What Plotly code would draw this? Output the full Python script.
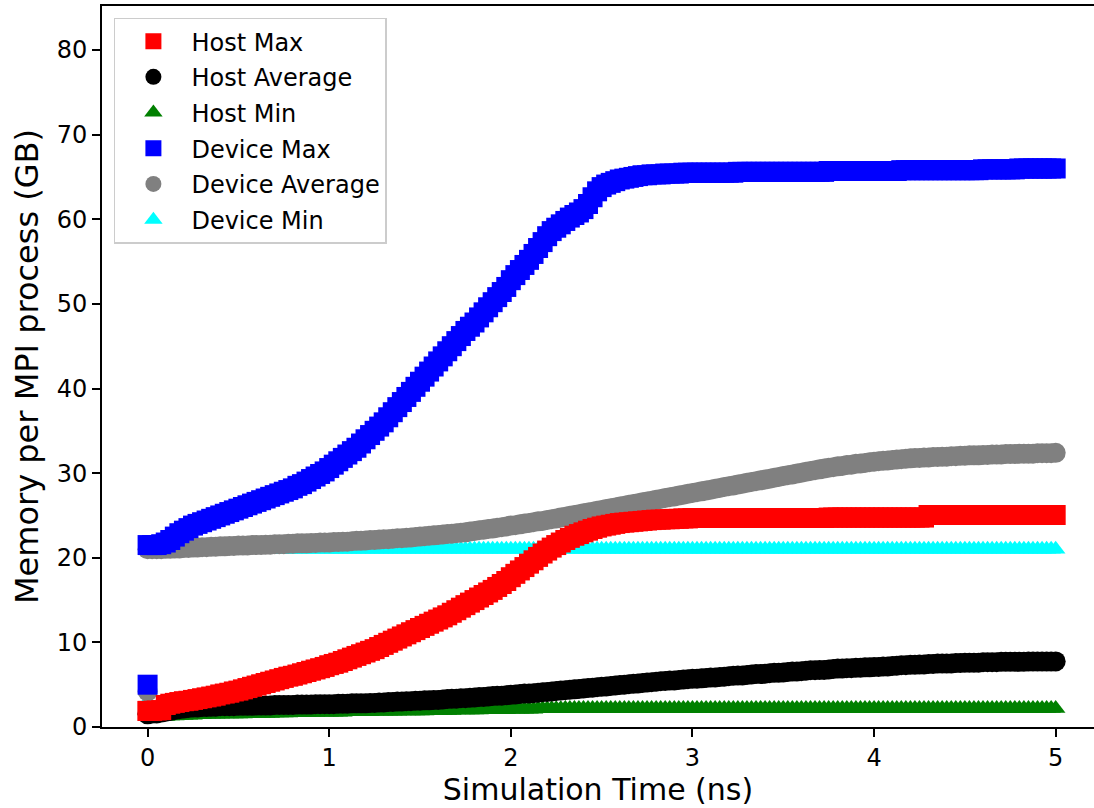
import plotly.graph_objects as go

# Sampling times of the simulation (ns): an initial record at t=0, then every 0.025 ns
TIME = [0.0] + [round(0.025 * i, 3) for i in range(201)]

# Memory per MPI process (GB); first value is the initial record, then one row per 0.5 ns
host_max = [1.9] + [
    1.9, 1.9, 1.95, 2.0, 2.6, 2.75, 2.85, 2.95, 3.05, 3.1, 3.2, 3.3, 3.4, 3.5, 3.6, 3.7, 3.85, 3.95, 4.05, 4.2,
    4.3, 4.45, 4.6, 4.75, 4.9, 5.05, 5.2, 5.35, 5.5, 5.65, 5.8, 5.95, 6.05, 6.2, 6.35, 6.5, 6.65, 6.8, 6.95, 7.1,
    7.3, 7.45, 7.6, 7.8, 8.0, 8.2, 8.4, 8.6, 8.8, 9.0, 9.2, 9.45, 9.7, 9.95, 10.2, 10.45, 10.7, 10.95, 11.2, 11.45,
    11.7, 11.95, 12.2, 12.45, 12.7, 12.95, 13.2, 13.5, 13.8, 14.1, 14.4, 14.7, 15.0, 15.3, 15.6, 15.9, 16.2, 16.55, 16.9, 17.25,
    17.7, 18.1, 18.5, 18.9, 19.3, 19.7, 20.1, 20.5, 20.85, 21.2, 21.5, 21.8, 22.1, 22.35, 22.6, 22.8, 23.0, 23.2, 23.4, 23.55,
    23.7, 23.8, 23.9, 24.0, 24.1, 24.15, 24.2, 24.25, 24.3, 24.35, 24.4, 24.45, 24.5, 24.5, 24.55, 24.55, 24.6, 24.6, 24.65, 24.65,
    24.7, 24.7, 24.7, 24.7, 24.7, 24.7, 24.7, 24.7, 24.7, 24.7, 24.7, 24.7, 24.7, 24.7, 24.7, 24.7, 24.7, 24.7, 24.7, 24.7,
    24.7, 24.7, 24.7, 24.7, 24.7, 24.7, 24.7, 24.7, 24.7, 24.7, 24.75, 24.75, 24.75, 24.75, 24.75, 24.75, 24.75, 24.75, 24.75, 24.75,
    24.75, 24.75, 24.75, 24.75, 24.75, 24.75, 24.75, 24.75, 24.75, 24.75, 24.75, 24.75, 25.05, 25.05, 25.05, 25.05, 25.05, 25.05, 25.05, 25.05,
    25.05, 25.05, 25.05, 25.05, 25.05, 25.05, 25.05, 25.05, 25.05, 25.05, 25.05, 25.05, 25.05, 25.05, 25.05, 25.05, 25.05, 25.05, 25.05, 25.05,
    25.05,
]
host_avg = [1.5] + [
    1.6, 1.6, 1.6, 1.7, 1.8, 1.9, 2.0, 2.1, 2.2, 2.25, 2.3, 2.3, 2.35, 2.35, 2.4, 2.4, 2.45, 2.45, 2.45, 2.45,
    2.5, 2.5, 2.5, 2.5, 2.55, 2.55, 2.55, 2.55, 2.6, 2.6, 2.6, 2.6, 2.6, 2.65, 2.65, 2.65, 2.65, 2.7, 2.7, 2.7,
    2.7, 2.7, 2.75, 2.75, 2.75, 2.8, 2.8, 2.8, 2.8, 2.85, 2.85, 2.9, 2.9, 2.95, 2.95, 3.0, 3.0, 3.05, 3.05, 3.1,
    3.1, 3.15, 3.15, 3.2, 3.2, 3.25, 3.3, 3.35, 3.35, 3.4, 3.4, 3.45, 3.5, 3.55, 3.55, 3.6, 3.65, 3.7, 3.7, 3.75,
    3.8, 3.85, 3.9, 3.95, 3.95, 4.0, 4.05, 4.1, 4.15, 4.2, 4.25, 4.3, 4.35, 4.4, 4.45, 4.5, 4.55, 4.6, 4.65, 4.7,
    4.75, 4.8, 4.85, 4.9, 4.95, 5.0, 5.05, 5.1, 5.15, 5.2, 5.25, 5.3, 5.35, 5.4, 5.45, 5.5, 5.5, 5.55, 5.6, 5.65,
    5.7, 5.7, 5.75, 5.8, 5.85, 5.85, 5.9, 5.95, 6.0, 6.05, 6.1, 6.1, 6.15, 6.2, 6.25, 6.25, 6.3, 6.35, 6.4, 6.4,
    6.45, 6.5, 6.55, 6.55, 6.6, 6.65, 6.7, 6.7, 6.75, 6.75, 6.8, 6.85, 6.9, 6.9, 6.95, 6.95, 7.0, 7.0, 7.05, 7.05,
    7.1, 7.1, 7.15, 7.15, 7.2, 7.25, 7.3, 7.3, 7.35, 7.35, 7.4, 7.4, 7.45, 7.45, 7.5, 7.5, 7.5, 7.5, 7.55, 7.55,
    7.6, 7.6, 7.6, 7.6, 7.65, 7.65, 7.65, 7.65, 7.7, 7.7, 7.7, 7.7, 7.7, 7.7, 7.75, 7.75, 7.75, 7.75, 7.75, 7.75,
    7.75,
]
host_min = [1.2] + [
    1.2, 1.2, 1.2, 1.25, 1.25, 1.3, 1.3, 1.35, 1.35, 1.4, 1.4, 1.45, 1.45, 1.5, 1.5, 1.5, 1.5, 1.55, 1.55, 1.55,
    1.55, 1.55, 1.6, 1.6, 1.6, 1.6, 1.6, 1.6, 1.65, 1.65, 1.65, 1.65, 1.7, 1.7, 1.7, 1.7, 1.7, 1.7, 1.75, 1.75,
    1.75, 1.75, 1.75, 1.75, 1.8, 1.8, 1.8, 1.8, 1.8, 1.8, 1.85, 1.85, 1.85, 1.85, 1.85, 1.85, 1.9, 1.9, 1.9, 1.9,
    1.9, 1.9, 1.95, 1.95, 1.95, 1.95, 1.95, 1.95, 2.0, 2.0, 2.0, 2.0, 2.0, 2.0, 2.05, 2.05, 2.05, 2.05, 2.05, 2.05,
    2.1, 2.1, 2.1, 2.1, 2.1, 2.1, 2.15, 2.15, 2.15, 2.15, 2.15, 2.15, 2.2, 2.2, 2.2, 2.2, 2.2, 2.2, 2.2, 2.2,
] + [2.2] * 101
device_max = [5.0] + [
    21.5, 21.5, 21.5, 21.6, 21.8, 22.1, 22.5, 22.9, 23.2, 23.5, 23.8, 24.0, 24.2, 24.4, 24.6, 24.8, 25.0, 25.2, 25.4, 25.6,
    25.8, 26.0, 26.2, 26.4, 26.6, 26.8, 27.0, 27.2, 27.4, 27.6, 27.8, 28.0, 28.2, 28.5, 28.7, 29.0, 29.3, 29.6, 29.9, 30.2,
    30.6, 31.0, 31.4, 31.8, 32.2, 32.6, 33.0, 33.5, 34.0, 34.5, 35.0, 35.5, 36.0, 36.6, 37.2, 37.8, 38.4, 39.0, 39.6, 40.2,
    40.8, 41.4, 42.0, 42.6, 43.2, 43.8, 44.4, 45.0, 45.6, 46.2, 46.8, 47.3, 47.8, 48.4, 49.0, 49.6, 50.2, 50.8, 51.4, 52.0,
    52.8, 53.4, 54.0, 54.6, 55.2, 55.9, 56.6, 57.3, 58.0, 58.6, 59.0, 59.4, 59.8, 60.2, 60.5, 60.8, 61.2, 61.8, 62.6, 63.3,
    63.8, 64.1, 64.3, 64.5, 64.7, 64.8, 64.9, 65.0, 65.1, 65.2, 65.2, 65.3, 65.3, 65.3, 65.4, 65.4, 65.4, 65.4, 65.5, 65.5,
    65.5, 65.5, 65.5, 65.5, 65.5, 65.5, 65.5, 65.5, 65.5, 65.5, 65.6, 65.6, 65.6, 65.6, 65.6, 65.6, 65.6, 65.6, 65.6, 65.6,
    65.6, 65.6, 65.6, 65.6, 65.6, 65.6, 65.6, 65.6, 65.6, 65.6, 65.7, 65.7, 65.7, 65.7, 65.7, 65.7, 65.7, 65.7, 65.7, 65.7,
    65.7, 65.7, 65.7, 65.7, 65.7, 65.7, 65.8, 65.8, 65.8, 65.8, 65.8, 65.8, 65.8, 65.8, 65.8, 65.8, 65.8, 65.8, 65.8, 65.8,
    65.8, 65.8, 65.8, 65.8, 65.9, 65.9, 65.9, 65.9, 65.9, 65.9, 65.9, 65.9, 66.0, 66.0, 66.0, 66.0, 66.0, 66.0, 66.0, 66.0,
    66.0,
]
device_avg = [4.2] + [
    21.0, 21.0, 21.0, 21.0, 21.05, 21.05, 21.1, 21.1, 21.15, 21.15, 21.2, 21.2, 21.25, 21.25, 21.3, 21.3, 21.35, 21.35, 21.4, 21.4,
    21.45, 21.45, 21.45, 21.5, 21.5, 21.5, 21.55, 21.55, 21.6, 21.6, 21.6, 21.65, 21.65, 21.7, 21.7, 21.7, 21.75, 21.75, 21.8, 21.8,
    21.8, 21.85, 21.85, 21.9, 21.9, 21.95, 22.0, 22.0, 22.05, 22.1, 22.1, 22.15, 22.2, 22.2, 22.25, 22.3, 22.3, 22.35, 22.4, 22.45,
    22.5, 22.55, 22.6, 22.65, 22.7, 22.75, 22.8, 22.85, 22.9, 22.95, 23.0, 23.1, 23.15, 23.25, 23.3, 23.4, 23.45, 23.55, 23.6, 23.7,
    23.8, 23.85, 23.95, 24.05, 24.1, 24.2, 24.3, 24.35, 24.45, 24.55, 24.65, 24.75, 24.85, 24.95, 25.05, 25.15, 25.25, 25.35, 25.45, 25.55,
    25.65, 25.75, 25.85, 25.95, 26.05, 26.15, 26.25, 26.35, 26.45, 26.55, 26.65, 26.75, 26.85, 26.95, 27.05, 27.15, 27.25, 27.35, 27.45, 27.55,
    27.65, 27.75, 27.85, 27.95, 28.05, 28.15, 28.25, 28.35, 28.45, 28.55, 28.65, 28.75, 28.85, 28.95, 29.05, 29.15, 29.25, 29.35, 29.45, 29.55,
    29.65, 29.75, 29.85, 29.95, 30.05, 30.15, 30.25, 30.35, 30.45, 30.55, 30.65, 30.7, 30.8, 30.85, 30.95, 31.0, 31.1, 31.15, 31.2, 31.3,
    31.35, 31.4, 31.45, 31.5, 31.55, 31.6, 31.65, 31.7, 31.75, 31.8, 31.8, 31.85, 31.85, 31.9, 31.9, 31.95, 31.95, 32.0, 32.0, 32.05,
    32.05, 32.1, 32.1, 32.1, 32.15, 32.15, 32.2, 32.2, 32.2, 32.25, 32.25, 32.25, 32.3, 32.3, 32.3, 32.3, 32.35, 32.35, 32.35, 32.35,
    32.4,
]
device_min = [3.0] + [21.0] * 201

FONT = "DejaVu Sans"

# (name, values, colour, symbol, size, legend position); listed in drawing order
SERIES = [
    ("Device Min", device_min, "#00ffff", "triangle-up", 17, 6),
    ("Host Min", host_min, "#008000", "triangle-up", 17, 3),
    ("Device Average", device_avg, "#808080", "circle", 20, 5),
    ("Host Average", host_avg, "#000000", "circle", 20, 2),
    ("Device Max", device_max, "#0000ff", "square", 20, 4),
    ("Host Max", host_max, "#ff0000", "square", 20, 1),
]

fig = go.Figure()
for name, vals, color, symbol, size, rank in SERIES:
    fig.add_trace(go.Scatter(
        x=TIME, y=vals, mode="markers", name=name, legendrank=rank, legendgroup=name,
        marker=dict(color=color, symbol=symbol, size=size, line=dict(width=0)),
    ))

axis_common = dict(
    showgrid=False, zeroline=False, showline=True, linecolor="black", linewidth=2,
    ticks="outside", ticklen=8, tickwidth=2, tickcolor="black",
    tickfont=dict(family=FONT, size=24, color="black"),
)

fig.update_layout(
    width=1094, height=808,
    margin=dict(l=102, r=0, t=6, b=81),
    paper_bgcolor="white", plot_bgcolor="white",
    font=dict(family=FONT, color="black"),
    xaxis=dict(
        range=[-0.251, 5.211], tickvals=[0, 1, 2, 3, 4, 5], mirror=True,
        title=dict(text="Simulation Time (ns)", font=dict(family=FONT, size=30), standoff=8),
        **axis_common,
    ),
    yaxis=dict(
        range=[0, 85.2], tickvals=[0, 10, 20, 30, 40, 50, 60, 70, 80],
        title=dict(text="Memory per MPI process (GB)", font=dict(family=FONT, size=32), standoff=8),
        **axis_common,
    ),
    legend=dict(
        x=0.012, y=0.984, xanchor="left", yanchor="top",
        bgcolor="rgba(255,255,255,0.8)", bordercolor="#cccccc", borderwidth=1.5,
        font=dict(family=FONT, size=24, color="black"),
        itemsizing="trace", itemwidth=66, tracegroupgap=1.5,
    ),
    showlegend=True,
)

fig.write_html("out.html")
